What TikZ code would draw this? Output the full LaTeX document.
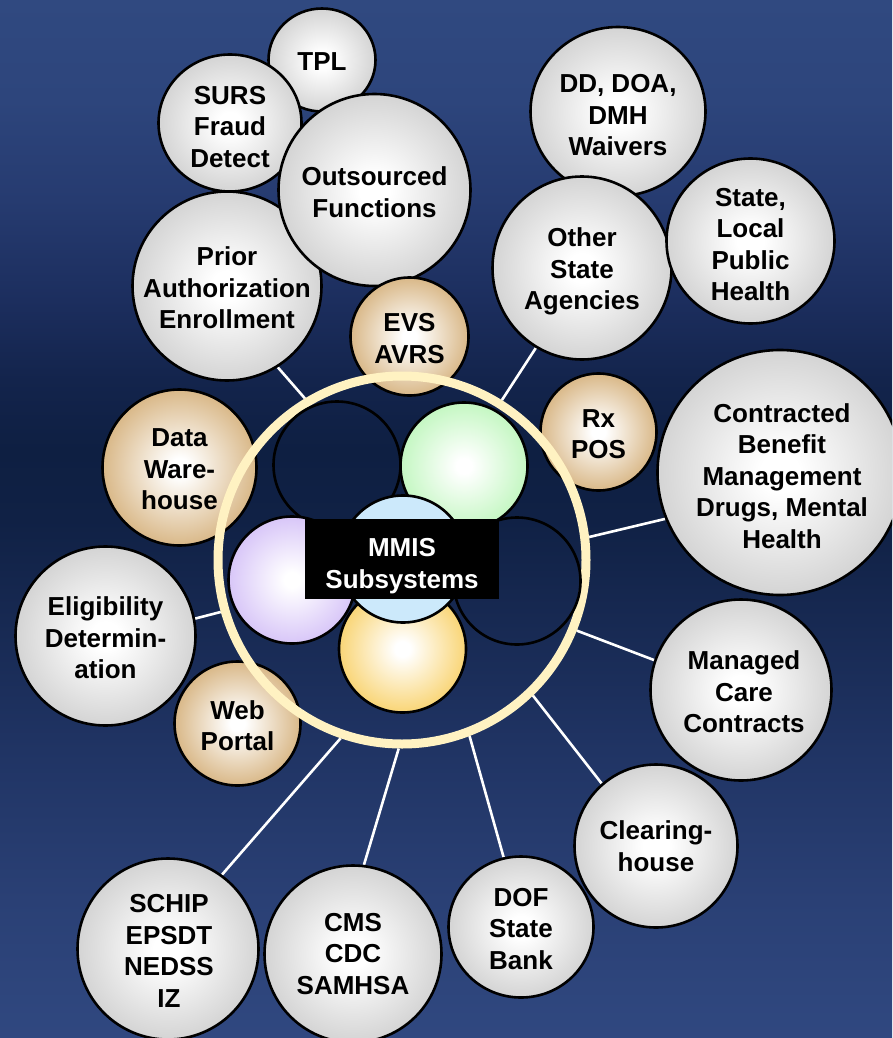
\documentclass[tikz,border=0pt]{standalone}
\usepackage{fontspec}
\setmainfont{Liberation Sans}
\usetikzlibrary{shapes.geometric}
\pgfdeclarelayer{bgl}
\pgfdeclarelayer{lines}
\pgfsetlayers{bgl,lines,main}
% background stops (top to bottom)
\definecolor{bg0}{RGB}{48,73,128}
\definecolor{bg1}{RGB}{45,69,124}
\definecolor{bg2}{RGB}{38,59,112}
\definecolor{bg3}{RGB}{28,46,94}
\definecolor{bg4}{RGB}{19,36,76}
\definecolor{bg5}{RGB}{14,31,66}
\definecolor{bg6}{RGB}{16,33,69}
\definecolor{bg7}{RGB}{23,41,82}
\definecolor{bg8}{RGB}{32,52,100}
\definecolor{bg9}{RGB}{42,64,117}
\definecolor{bgX}{RGB}{48,72,128}
% bubble colours
\definecolor{grayE}{RGB}{212,212,212}
\definecolor{tanE}{RGB}{217,184,136}
\definecolor{greenE}{RGB}{196,247,194}
\definecolor{purpE}{RGB}{216,198,248}
\definecolor{yellE}{RGB}{249,213,118}
\definecolor{blueF}{RGB}{204,233,251}
\definecolor{ringc}{RGB}{255,242,194}
\pgfdeclareverticalshading{bgsh}{100bp}{color(0bp)=(bgX); color(25bp)=(bgX); color(31.65bp)=(bg9); color(38.87bp)=(bg8); color(45.13bp)=(bg7); color(49.95bp)=(bg6); color(53.32bp)=(bg5); color(56.7bp)=(bg4); color(60.55bp)=(bg3); color(65.37bp)=(bg2); color(70.18bp)=(bg1); color(75bp)=(bg0); color(100bp)=(bg0)}
\pgfdeclareradialshading{gshade}{\pgfpointorigin}{color(0bp)=(white); color(4bp)=(white); color(25bp)=(grayE); color(50bp)=(grayE)}
\pgfdeclareradialshading{tshade}{\pgfpointorigin}{color(0bp)=(white); color(3bp)=(white); color(25bp)=(tanE); color(50bp)=(tanE)}
\pgfdeclareradialshading{grshade}{\pgfpointorigin}{color(0bp)=(white); color(3bp)=(white); color(25bp)=(greenE); color(50bp)=(greenE)}
\pgfdeclareradialshading{pshade}{\pgfpointorigin}{color(0bp)=(white); color(3bp)=(white); color(25bp)=(purpE); color(50bp)=(purpE)}
\pgfdeclareradialshading{yshade}{\pgfpointorigin}{color(0bp)=(white); color(3bp)=(white); color(25bp)=(yellE); color(50bp)=(yellE)}
\tikzset{
  bub/.style n args={3}{ellipse, draw=black, line width=2.6pt, inner sep=0pt, shade, shading=#1, minimum width=#2, minimum height=#3},
  gbub/.style 2 args={bub={gshade}{#1}{#2}},
  tbub/.style 2 args={bub={tshade}{#1}{#2}},
  lbl/.style={font=\fontsize{26pt}{31.5pt}\selectfont\bfseries, align=center, inner sep=0pt, text=black, yshift=-2pt},
  conn/.style={draw=white, line width=2.6pt},
  ringst/.style={circle, draw=ringc, line width=9pt, inner sep=0pt, minimum size=368pt},
  inr/.style={circle, draw=black, line width=2.6pt, inner sep=0pt, minimum size=127pt},
}
\begin{document}
\begin{tikzpicture}[x=1pt,y=-1pt]
\useasboundingbox (0,0) rectangle (892,1038);
\begin{pgfonlayer}{bgl}
\shade[shading=bgsh] (0,0) rectangle (892,1038);
\end{pgfonlayer}
\clip (0,0) rectangle (892,1038);
% outer bubbles
\node[gbub={107pt}{103pt}] (tpl) at (322,60) {};
\node[lbl] (tplT) at (tpl) {TPL};
\node[gbub={143pt}{137pt}] (surs) at (230,123) {};
\node[lbl] (sursT) at (230,125) {SURS\\Fraud\\Detect};
\node[gbub={189pt}{189pt}] (pa) at (227,286) {};
\node[lbl] (paT) at (pa) {Prior\\Authorization\\Enrollment};
\node[gbub={192pt}{192pt}] (outs) at (374.5,190) {};
\node[lbl] (outsT) at (outs) {Outsourced\\Functions};
\node[tbub={118pt}{118pt}] (evs) at (409.5,336.5) {};
\node[lbl] (evsT) at (evs) {EVS\\AVRS};
\node[gbub={175pt}{169pt}] (dd) at (618,111.5) {};
\node[lbl] (ddT) at (618,113.5) {DD, DOA,\\DMH\\Waivers};
\node[gbub={179pt}{183pt}] (osa) at (582,268) {};
\node[lbl] (osaT) at (582,269.5) {Other\\State\\Agencies};
\node[gbub={168pt}{165pt}] (slph) at (750.5,241) {};
\node[lbl] (slphT) at (750.5,242.5) {State,\\Local\\Public\\Health};
\node[tbub={116pt}{117pt}] (rx) at (598.5,432) {};
\node[lbl] (rxT) at (rx) {Rx\\POS};
\node[gbub={245pt}{245pt}] (cbm) at (780,472.5) {};
\node[lbl] (cbmT) at (782,474) {Contracted\\Benefit\\Management\\Drugs, Mental\\Health};
\node[tbub={154pt}{156pt}] (dw) at (179.5,467.5) {};
\node[lbl] (dwT) at (dw) {Data\\Ware-\\house};
\node[gbub={180pt}{179pt}] (elig) at (105.5,636) {};
\node[lbl] (eligT) at (elig) {Eligibility\\Determin-\\ation};
\node[tbub={126pt}{124pt}] (web) at (237.5,723.5) {};
\node[lbl] (webT) at (web) {Web\\Portal};
\node[gbub={163pt}{163pt}] (clr) at (656,846) {};
\node[lbl] (clrT) at (656,844) {Clearing-\\house};
\node[gbub={181pt}{181pt}] (mcc) at (741,690) {};
\node[lbl] (mccT) at (744,690) {Managed\\Care\\Contracts};
\node[gbub={145pt}{141pt}] (dof) at (521,927) {};
\node[lbl] (dofT) at (dof) {DOF\\State\\Bank};
\node[gbub={177pt}{177pt}] (cms) at (353,954) {};
\node[lbl] (cmsT) at (353,952) {CMS\\CDC\\SAMHSA};
\node[gbub={181pt}{181pt}] (schip) at (168,949) {};
\node[lbl] (schipT) at (169,949) {SCHIP\\EPSDT\\NEDSS\\IZ};
% ring
\node[ringst] (ring) at (402,560) {};
% inner circles
\node[inr] (dtl) at (337,465) {};
\node[inr, shade, shading=grshade] (grn) at (464,466) {};
\node[inr, shade, shading=pshade] (pur) at (292,580) {};
\node[inr] (dr) at (517,581) {};
\node[inr, shade, shading=yshade] (yel) at (402.5,649) {};
\node[inr, fill=blueF] (blu) at (403,559) {};
\node[fill=black, minimum width=194pt, minimum height=80pt, inner sep=0pt] (box) at (402,559) {};
\node[lbl, text=white] (boxT) at (402,564) {MMIS\\Subsystems};
% connectors
\begin{pgfonlayer}{lines}
\draw[conn] (ring.121.3) -- (pa.-58.1);
\draw[conn] (ring.58.2) -- (osa.-120);
\draw[conn] (ring.7.3) -- (cbm.202.7);
\draw[conn] (ring.196.2) -- (elig.11);
\draw[conn] (ring.-22.2) -- (mcc.161.2);
\draw[conn] (ring.-46.7) -- (clr.131.6);
\draw[conn] (ring.-69) -- (dof.104);
\draw[conn] (ring.-91.2) -- (cms.83.7);
\draw[conn] (ring.-109.2) -- (schip.54.6);
\end{pgfonlayer}
\end{tikzpicture}
\end{document}
